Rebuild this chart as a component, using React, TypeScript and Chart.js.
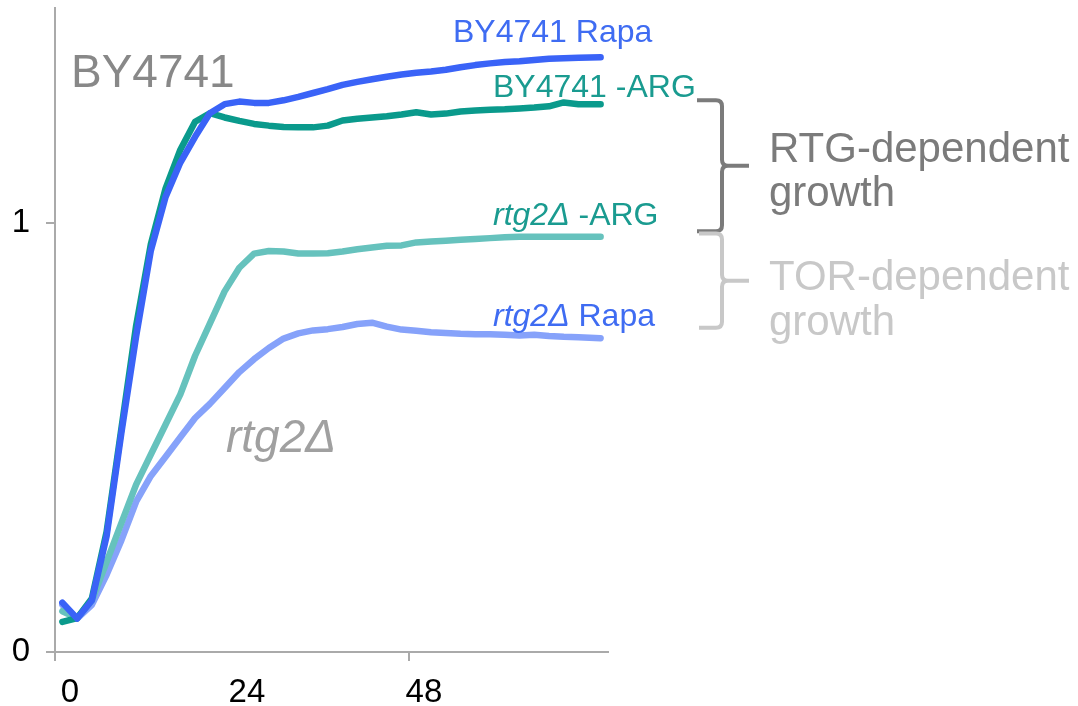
import React, { useEffect, useRef } from 'react';
import { Chart, registerables } from 'chart.js';
Chart.register(...registerables);

const hours = [1, 3, 5, 7, 9, 11, 13, 15, 17, 19, 21, 23, 25, 27, 29, 31, 33, 35, 37, 39, 41, 43, 45, 47, 49, 51, 53, 55, 57, 59, 61, 63, 65, 67, 69, 71, 74];
const by4741Rapa = [0.115, 0.078, 0.12, 0.27, 0.51, 0.735, 0.935, 1.06, 1.14, 1.2, 1.255, 1.276, 1.282, 1.279, 1.279, 1.285, 1.293, 1.302, 1.311, 1.321, 1.328, 1.334, 1.34, 1.345, 1.349, 1.352, 1.356, 1.362, 1.367, 1.371, 1.374, 1.376, 1.379, 1.382, 1.383, 1.384, 1.385];
const by4741Arg = [0.07, 0.079, 0.125, 0.28, 0.52, 0.76, 0.95, 1.08, 1.17, 1.235, 1.255, 1.245, 1.237, 1.23, 1.226, 1.223, 1.222, 1.222, 1.226, 1.238, 1.242, 1.245, 1.248, 1.252, 1.257, 1.252, 1.254, 1.259, 1.261, 1.263, 1.264, 1.266, 1.268, 1.271, 1.28, 1.276, 1.276];
const rtg2Arg = [0.095, 0.079, 0.12, 0.21, 0.3, 0.39, 0.46, 0.53, 0.6, 0.69, 0.765, 0.84, 0.895, 0.928, 0.934, 0.933, 0.928, 0.928, 0.929, 0.933, 0.938, 0.942, 0.946, 0.947, 0.954, 0.956, 0.958, 0.96, 0.962, 0.964, 0.966, 0.967, 0.967, 0.967, 0.967, 0.967, 0.967];
const rtg2Rapa = [0.11, 0.078, 0.11, 0.18, 0.26, 0.35, 0.41, 0.455, 0.5, 0.545, 0.578, 0.615, 0.652, 0.682, 0.708, 0.73, 0.742, 0.749, 0.752, 0.757, 0.764, 0.767, 0.758, 0.751, 0.748, 0.745, 0.743, 0.741, 0.74, 0.74, 0.739, 0.737, 0.739, 0.736, 0.734, 0.733, 0.731];
const xTicks = [0, 24, 48];
const yTicks = [0, 1];

const FONT = '"Liberation Sans", Arial, Helvetica, sans-serif';

function toPoints(vals: number[]) {
  return vals.map((v, i) => ({ x: hours[i], y: v }));
}

function drawBrace(ctx: CanvasRenderingContext2D, xl: number, xs: number, xt: number, yt: number, yb: number, color: string) {
  const ym = (yt + yb) / 2;
  const r = 6;
  ctx.save();
  ctx.strokeStyle = color;
  ctx.lineWidth = 4;
  ctx.lineJoin = 'round';
  ctx.lineCap = 'butt';
  ctx.beginPath();
  ctx.moveTo(xl, yt);
  ctx.lineTo(xs - r, yt);
  ctx.quadraticCurveTo(xs, yt, xs, yt + r);
  ctx.lineTo(xs, ym - r);
  ctx.quadraticCurveTo(xs, ym, xs + r, ym);
  ctx.lineTo(xt, ym);
  ctx.moveTo(xs + r, ym);
  ctx.quadraticCurveTo(xs, ym, xs, ym + r);
  ctx.lineTo(xs, yb - r);
  ctx.quadraticCurveTo(xs, yb, xs - r, yb);
  ctx.lineTo(xl, yb);
  ctx.stroke();
  ctx.restore();
}

function mixedText(ctx: CanvasRenderingContext2D, italic: string, normal: string, x: number, y: number, size: number, color: string) {
  ctx.fillStyle = color;
  ctx.font = `italic ${size}px ${FONT}`;
  ctx.fillText(italic, x, y);
  const w = ctx.measureText(italic).width;
  ctx.font = `${size}px ${FONT}`;
  ctx.fillText(normal, x + w, y);
}

const annotations = {
  id: 'annotations',
  afterDraw(chart: any) {
    const ctx: CanvasRenderingContext2D = chart.ctx;
    const ys = chart.scales.y;
    ctx.save();
    ctx.textAlign = 'left';
    ctx.textBaseline = 'alphabetic';
    ctx.fillStyle = '#888888';
    ctx.font = `46px ${FONT}`;
    ctx.fillText('BY4741', 71, 87);
    ctx.fillStyle = '#3F6CF2';
    ctx.font = `32px ${FONT}`;
    ctx.fillText('BY4741 Rapa', 453, 42);
    ctx.fillStyle = '#1A9B90';
    ctx.fillText('BY4741 -ARG', 493, 97);
    mixedText(ctx, 'rtg2Δ', ' -ARG', 493, 225, 32, '#1A9B90');
    mixedText(ctx, 'rtg2Δ', ' Rapa', 493, 326, 32, '#3F6CF2');
    ctx.fillStyle = '#A0A0A0';
    ctx.font = `italic 46px ${FONT}`;
    ctx.fillText('rtg2Δ', 226, 452);
    ctx.fillStyle = '#7B7B7B';
    ctx.font = `42px ${FONT}`;
    ctx.fillText('RTG-dependent', 769, 162);
    ctx.fillText('growth', 769, 206);
    ctx.fillStyle = '#C8C8C8';
    ctx.fillText('TOR-dependent', 769, 290);
    ctx.fillText('growth', 769, 335);
    ctx.restore();
    drawBrace(ctx, 697, 722, 749, ys.getPixelForValue(1.285), ys.getPixelForValue(0.98), '#7B7B7B');
    drawBrace(ctx, 699, 722, 749, ys.getPixelForValue(0.975), ys.getPixelForValue(0.755), '#C8C8C8');
  },
};

export default function App() {
  const ref = useRef<HTMLCanvasElement | null>(null);
  useEffect(() => {
    document.body.style.margin = '0';
    if (!ref.current) return;
    const mk = (label: string, vals: number[], color: string) => ({
      label,
      data: toPoints(vals),
      borderColor: color,
      backgroundColor: color,
      borderWidth: 6.5,
      pointRadius: 0,
      tension: 0,
      borderJoinStyle: 'round' as const,
      borderCapStyle: 'round' as const,
      fill: false,
    });
    const chart = new Chart(ref.current, {
      type: 'line',
      data: {
        datasets: [
          mk('BY4741 Rapa', by4741Rapa, '#3A63F7'),
          mk('BY4741 -ARG', by4741Arg, '#0A9A8C'),
          mk('rtg2Δ -ARG', rtg2Arg, '#66C2BD'),
          mk('rtg2Δ Rapa', rtg2Rapa, '#86A2FA'),
        ],
      },
      options: {
        animation: false,
        responsive: false,
        devicePixelRatio: 1,
        layout: { padding: { left: 0, top: 8, right: 470, bottom: 0 } },
        plugins: { legend: { display: false }, tooltip: { enabled: false } },
        scales: {
          x: {
            type: 'linear',
            min: 0,
            max: 75,
            afterBuildTicks: (s: any) => { s.ticks = xTicks.map((v) => ({ value: v })); },
            afterFit: (s: any) => { s.height = 54; s.paddingLeft = 0; s.paddingRight = 0; },
            ticks: { color: '#000', font: { size: 33, family: FONT }, padding: 12, labelOffset: 15, maxRotation: 0 },
            grid: {
              drawOnChartArea: false,
              drawTicks: true,
              tickLength: 9,
              lineWidth: 2,
              color: (c: any) => (c.tick && c.tick.value === 24 ? 'rgba(0,0,0,0)' : '#AAAAAA'),
            },
            border: { display: true, color: '#AAAAAA', width: 2 },
          },
          y: {
            type: 'linear',
            min: 0,
            max: 1.5,
            afterBuildTicks: (s: any) => { s.ticks = yTicks.map((v) => ({ value: v })); },
            afterFit: (s: any) => { s.width = 55; s.paddingTop = 0; s.paddingBottom = 0; },
            ticks: { color: '#000', font: { size: 33, family: FONT }, padding: 16 },
            grid: { drawOnChartArea: false, drawTicks: true, tickLength: 9, lineWidth: 2, color: '#AAAAAA' },
            border: { display: true, color: '#AAAAAA', width: 2 },
          },
        },
      },
      plugins: [annotations],
    });
    return () => chart.destroy();
  }, []);
  return (
    <div style={{ width: 1078, height: 706, position: 'relative', background: '#fff' }}>
      <canvas ref={ref} width={1078} height={706} />
    </div>
  );
}
